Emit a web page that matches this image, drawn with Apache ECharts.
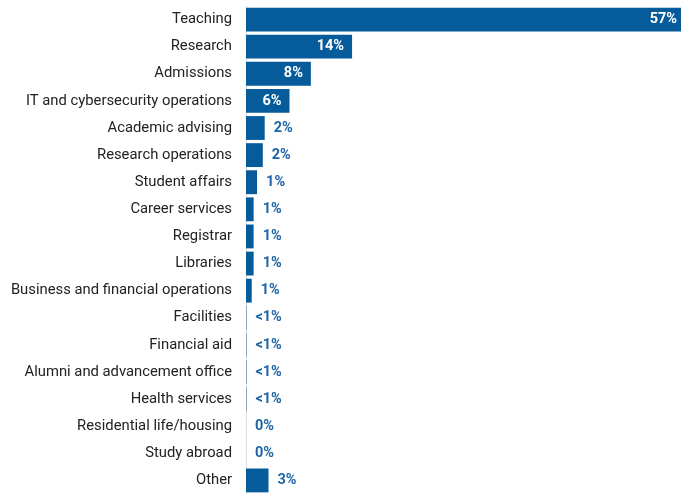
<!DOCTYPE html>
<html><head><meta charset="utf-8">
<script src="https://cdn.jsdelivr.net/npm/echarts@6/dist/echarts.min.js"></script>
<style>html,body{margin:0;padding:0;background:#fff}#c{width:681px;height:494px}</style>
</head><body><div id="c"></div>
<script>
const categories = ["Teaching","Research","Admissions","IT and cybersecurity operations","Academic advising","Research operations","Student affairs","Career services","Registrar","Libraries","Business and financial operations","Facilities","Financial aid","Alumni and advancement office","Health services","Residential life/housing","Study abroad","Other"];
const values = [57, 13.9, 8.5, 5.7, 2.45, 2.2, 1.45, 1.0, 1.0, 1.0, 0.75, 0.05, 0.05, 0.05, 0.05, 0, 0, 2.95];
const labels = ["57%","14%","8%","6%","2%","2%","1%","1%","1%","1%","1%","<1%","<1%","<1%","<1%","0%","0%","3%"];
const insideCount = 4;

const chart = echarts.init(document.getElementById('c'));
chart.setOption({
  animation: false,
  grid: {left: 246, right: 0, top: 6, bottom: -2, containLabel: false},
  xAxis: {type: 'value', min: 0, max: 57, show: false},
  yAxis: {
    type: 'category', data: categories, inverse: true,
    axisLine: {show: true, lineStyle: {color: '#dcdcdc', width: 1}},
    axisTick: {show: false},
    axisLabel: {color: '#222', fontFamily: 'Roboto', fontSize: 14.8, margin: 14}
  },
  series: [{
    type: 'bar', barCategoryGap: '12%',
    itemStyle: {color: '#065b9b'},
    data: values.map((v, i) => ({
      value: v,
      label: i < insideCount
        ? {show: true, position: 'insideRight', distance: i === 0 ? 4 : 8, color: '#fff', fontWeight: 'bold', fontSize: 14.5, fontFamily: 'Roboto', formatter: labels[i]}
        : {show: true, position: 'right', distance: 9, color: '#1f65a6', fontWeight: 'bold', fontSize: 14.5, fontFamily: 'Roboto', formatter: labels[i]}
    }))
  }]
});
</script></body></html>
